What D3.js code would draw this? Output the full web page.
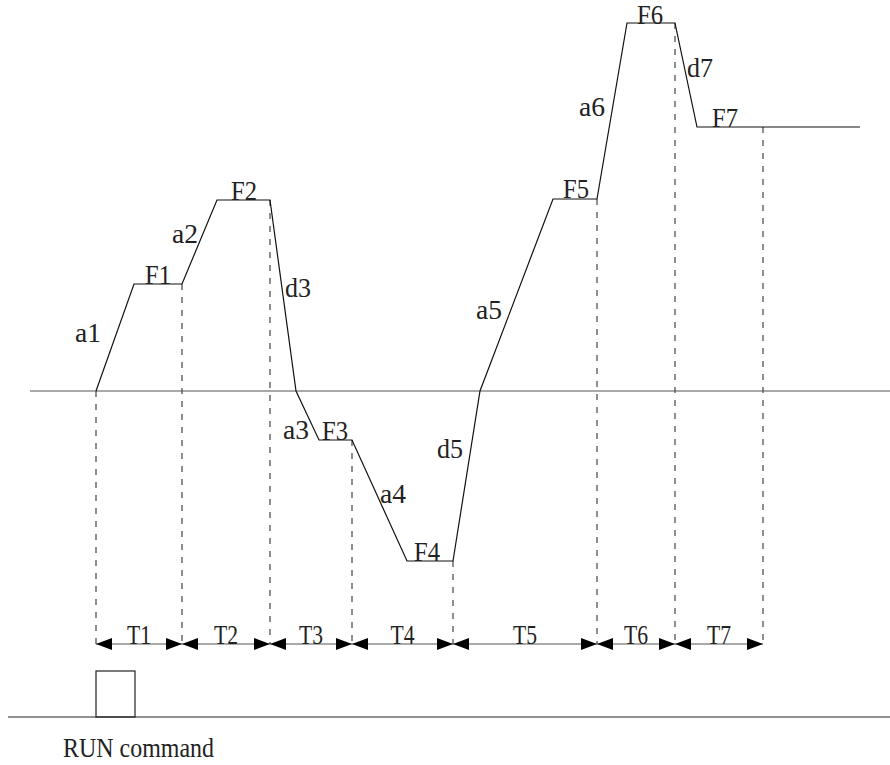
<!DOCTYPE html>
<html lang="en">
<head>
    <meta charset="UTF-8">
    <title>speed profile</title>
    <script src="https://cdn.jsdelivr.net/npm/d3@7"></script>
    <style>
        body { margin: 0; background: #fff; }
        text { font-family: "Liberation Serif", "DejaVu Serif", serif; fill: #222; }
    </style>
</head>
<body>
<svg width="890" height="765"></svg>
<script>
    // time of each segment boundary (T1..T7) and the frequency levels
    var boundaries = [0, 86, 174, 256, 357, 501, 579, 667];
    var segNames = ["T1", "T2", "T3", "T4", "T5", "T6", "T7"];
    var levels = [0, 107, 191, -49, -170, 192, 368, 264];   // level at each boundary

    // frequency profile vertices [t, f]
    var profile = [
        [0, 0], [38, 107], [86, 107], [121, 191], [174, 191],
        [200, 0], [223, -49], [256, -49], [311, -170], [357, -170],
        [384, 0], [457, 192], [501, 192], [531, 368], [579, 368],
        [601, 264], [764, 264]
    ];

    // annotations [text, t, f]  (left edge / baseline)
    var labels = [
        ["a1", -21, 49], ["F1", 49, 107], ["a2", 76, 148], ["F2", 135, 191],
        ["d3", 189, 94], ["a3", 187, -48], ["F3", 226, -49], ["a4", 284, -112],
        ["F4", 318, -170], ["d5", 341, -67], ["a5", 380, 72], ["F5", 467, 193],
        ["a6", 483, 275], ["F6", 541, 367], ["d7", 591, 314], ["F7", 616, 264]
    ];

    var svg = d3.select("svg");
    var x = d3.scaleLinear().domain([0, 667]).range([96, 763]);
    var y = d3.scaleLinear().domain([-170, 368]).range([561, 23]);

    var tLineY = 644;
    var baseY = 717;

    // zero axis
    svg.append("line")
        .attr("x1", 30).attr("x2", 890)
        .attr("y1", y(0)).attr("y2", y(0))
        .style("stroke", "#555").style("stroke-width", 1.2);

    // dashed drop lines
    svg.append("g").selectAll("line")
        .data(boundaries)
        .enter()
        .append("line")
        .attr("x1", function(d){ return x(d); })
        .attr("x2", function(d){ return x(d); })
        .attr("y1", function(d, i){ return y(levels[i]); })
        .attr("y2", tLineY)
        .style("stroke", "#444")
        .style("stroke-width", 1.2)
        .style("stroke-dasharray", "6,7");

    // profile
    var line = d3.line()
        .x(function(d){ return x(d[0]); })
        .y(function(d){ return y(d[1]); });
    svg.append("path")
        .attr("d", line(profile))
        .style("fill", "none")
        .style("stroke", "#111")
        .style("stroke-width", 1.2);

    svg.append("g").selectAll("text")
        .data(labels)
        .enter()
        .append("text")
        .attr("x", function(d){ return x(d[1]); })
        .attr("y", function(d){ return y(d[2]); })
        .attr("font-size", 28)
        .attr("textLength", 26)
        .attr("lengthAdjust", "spacingAndGlyphs")
        .text(function(d){ return d[0]; });

    // time line with arrows
    svg.append("line")
        .attr("x1", x(boundaries[0])).attr("x2", x(boundaries[boundaries.length - 1]))
        .attr("y1", tLineY).attr("y2", tLineY)
        .style("stroke", "#555").style("stroke-width", 1.2);

    var segs = d3.pairs(boundaries);
    var arrows = svg.append("g");
    segs.forEach(function(s, i) {
        var a = x(s[0]), b = x(s[1]);
        arrows.append("path")
            .attr("d", "M" + a + "," + tLineY + "L" + (a + 16) + "," + (tLineY - 6) + "L" + (a + 16) + "," + (tLineY + 6) + "Z")
            .style("fill", "#000");
        arrows.append("path")
            .attr("d", "M" + b + "," + tLineY + "L" + (b - 16) + "," + (tLineY - 6) + "L" + (b - 16) + "," + (tLineY + 6) + "Z")
            .style("fill", "#000");
        svg.append("text")
            .attr("x", (a + b) / 2 - 12)
            .attr("y", tLineY)
            .attr("font-size", 28)
            .attr("textLength", 24)
            .attr("lengthAdjust", "spacingAndGlyphs")
            .text(segNames[i]);
    });

    // RUN command pulse
    svg.append("line")
        .attr("x1", 8).attr("x2", 890)
        .attr("y1", baseY).attr("y2", baseY)
        .style("stroke", "#222").style("stroke-width", 1.2);
    svg.append("rect")
        .attr("x", x(0)).attr("y", 671)
        .attr("width", 39).attr("height", baseY - 671)
        .style("fill", "none").style("stroke", "#222").style("stroke-width", 1.2);
    svg.append("text")
        .attr("x", 63).attr("y", 757)
        .attr("font-size", 28)
        .attr("textLength", 151)
        .attr("lengthAdjust", "spacingAndGlyphs")
        .text("RUN command");
</script>
</body>
</html>
